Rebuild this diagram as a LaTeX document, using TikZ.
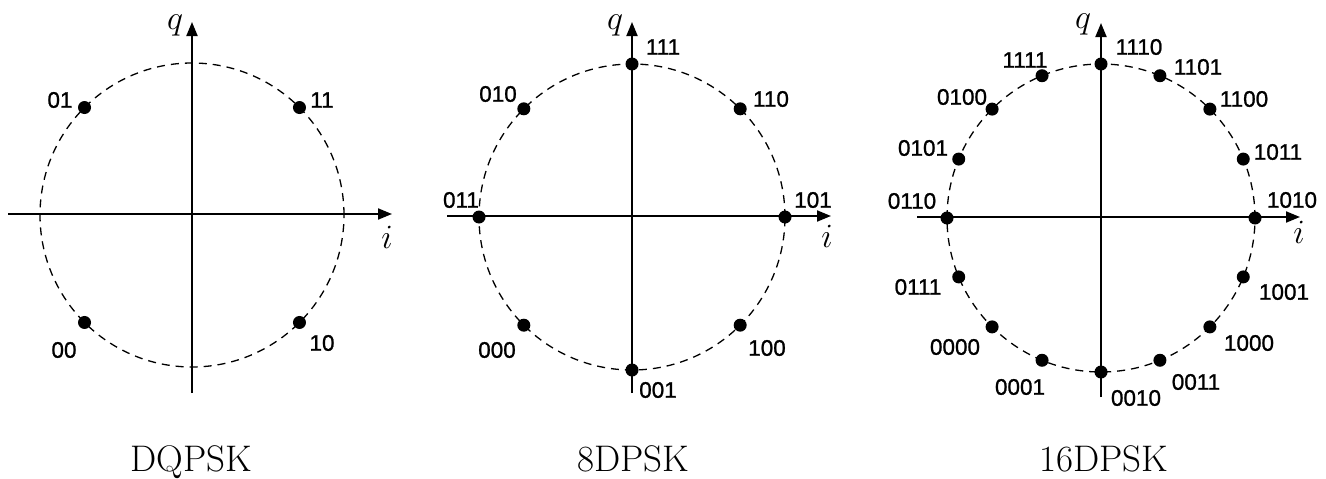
\RequirePackage{fix-cm}
\documentclass[tikz,border=0pt]{standalone}
\usepackage{fontspec}
\newfontfamily\labfont[FakeBold=1]{Liberation Sans}
\usetikzlibrary{arrows.meta}
\tikzset{
 axis/.style={line width=1.9pt,-{Triangle[length=14pt,width=11pt]}},
 ring/.style={line width=1.3pt,dash pattern=on 8pt off 6pt},
 pt/.style={circle,fill=black,inner sep=0pt,minimum size=13pt},
 lbl/.style={font=\labfont\fontsize{22.5}{26}\selectfont,inner sep=0pt},
 ttl/.style={font=\fontsize{37}{42}\selectfont,inner sep=0pt,anchor=base},
 axl/.style={font=\fontsize{34}{40}\selectfont,inner sep=0pt}
}
\begin{document}
\begin{tikzpicture}[x=1pt,y=1pt]
\useasboundingbox (0,-479) rectangle (1326,0);
% ---------------- DQPSK ----------------
\coordinate (a1l) at (8,-214); \coordinate (a1r) at (392,-214);
\coordinate (a1b) at (192,-393); \coordinate (a1t) at (192,-22);
\draw[ring] (192,-215) circle (152);
\draw[axis] (a1l) -- (a1r);
\draw[axis] (a1b) -- (a1t);
\begin{scope}[shift={(192,-215)}]
\node[pt] (p11) at (45:152) {};
\node[pt] (p01) at (135:152) {};
\node[pt] (p00) at (225:152) {};
\node[pt] (p10) at (315:152) {};
\end{scope}
\node[lbl] (l01) at (60,-100) {01};
\node[lbl] (l11) at (322,-100) {11};
\node[lbl] (l00) at (64,-350) {00};
\node[lbl] (l10) at (322,-343) {10};
\node[axl] (q1) at (175,-25) {$q$};
\node[axl] (i1) at (387,-237) {$i$};
\node[ttl] (t1) at (191,-471) {DQPSK};
% ---------------- 8DPSK ----------------
\coordinate (a2l) at (447,-216); \coordinate (a2r) at (831,-216);
\coordinate (a2b) at (632,-393); \coordinate (a2t) at (632,-22);
\draw[ring] (632,-217) circle (153);
\draw[axis] (a2l) -- (a2r);
\draw[axis] (a2b) -- (a2t);
\begin{scope}[shift={(632,-217)}]
\node[pt] (e111) at (90:153) {};
\node[pt] (e110) at (45:153) {};
\node[pt] (e101) at (0:153) {};
\node[pt] (e100) at (-45:153) {};
\node[pt] (e001) at (-90:153) {};
\node[pt] (e000) at (-135:153) {};
\node[pt] (e011) at (180:153) {};
\node[pt] (e010) at (135:153) {};
\end{scope}
\node[lbl] (m111) at (663,-47) {111};
\node[lbl] (m010) at (498,-94) {010};
\node[lbl] (m110) at (771,-99) {110};
\node[lbl] (m011) at (461,-200) {011};
\node[lbl] (m101) at (813,-200) {101};
\node[lbl] (m000) at (497,-350) {000};
\node[lbl] (m100) at (767,-348) {100};
\node[lbl] (m001) at (658,-390) {001};
\node[axl] (q2) at (615,-25) {$q$};
\node[axl] (i2) at (827,-236) {$i$};
\node[ttl] (t2) at (633,-471) {8DPSK};
% ---------------- 16DPSK ----------------
\coordinate (a3l) at (917,-217); \coordinate (a3r) at (1300,-217);
\coordinate (a3b) at (1101,-397); \coordinate (a3t) at (1101,-23);
\draw[ring] (1101,-218) circle (154);
\draw[axis] (a3l) -- (a3r);
\draw[axis] (a3b) -- (a3t);
\begin{scope}[shift={(1101,-218)}]
\foreach \k in {0,...,15}{
  \node[pt] (s\k) at (\k*22.5:154) {};
}
\end{scope}
\node[lbl] (n1110) at (1139,-47) {1110};
\node[lbl] (n1101) at (1198,-67) {1101};
\node[lbl] (n1100) at (1244,-99) {1100};
\node[lbl] (n1011) at (1278,-152) {1011};
\node[lbl] (n1010) at (1292,-200) {1010};
\node[lbl] (n1001) at (1284,-292) {1001};
\node[lbl] (n1000) at (1249,-343) {1000};
\node[lbl] (n0011) at (1196,-382) {0011};
\node[lbl] (n0010) at (1136,-398) {0010};
\node[lbl] (n0001) at (1020,-387) {0001};
\node[lbl] (n0000) at (955,-347) {0000};
\node[lbl] (n0111) at (918,-287) {0111};
\node[lbl] (n0110) at (912,-201) {0110};
\node[lbl] (n0101) at (923,-148) {0101};
\node[lbl] (n0100) at (962,-97) {0100};
\node[lbl] (n1111) at (1025,-60) {1111};
\node[axl] (q3) at (1083,-24) {$q$};
\node[axl] (i3) at (1299,-232) {$i$};
\node[ttl] (t3) at (1104,-471) {16DPSK};
\end{tikzpicture}
\end{document}
